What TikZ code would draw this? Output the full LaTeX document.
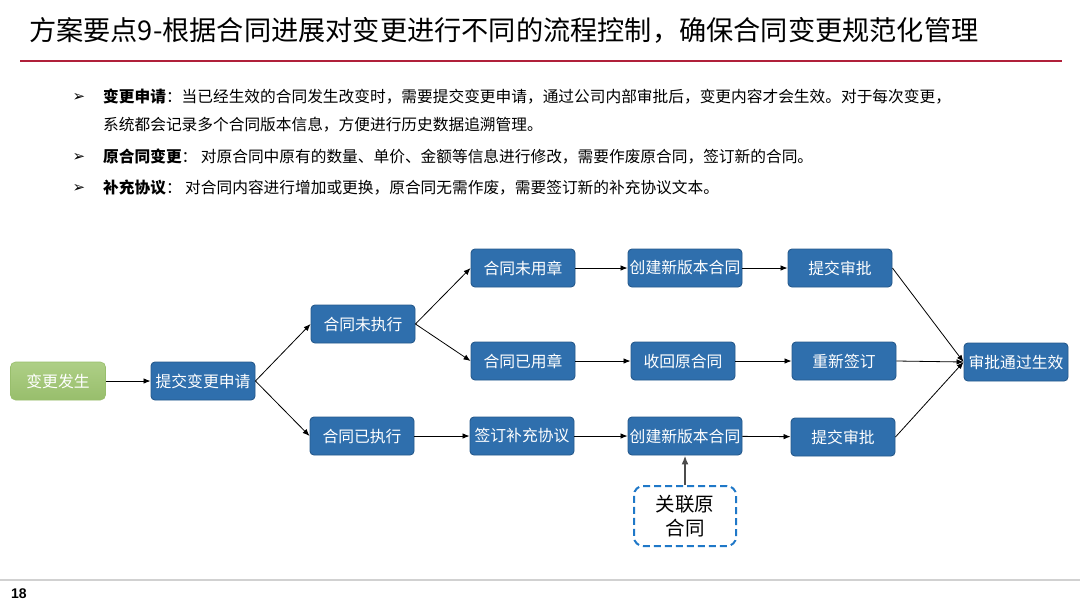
\documentclass[tikz,border=0pt]{standalone}
\usepackage{fontspec}
\setmainfont{Noto Sans CJK SC}
\newfontfamily\cjk{Noto Sans CJK SC}
\newfontfamily\symf{DejaVu Sans}
\usetikzlibrary{arrows.meta,positioning}
\definecolor{boxblue}{HTML}{2F6FAD}
\definecolor{boxborder}{HTML}{25598C}
\definecolor{boxgreenT}{HTML}{AECF86}
\definecolor{boxgreenB}{HTML}{98BE6C}
\definecolor{titlered}{HTML}{B0203A}
\definecolor{dashblue}{HTML}{1F78C8}
\tikzset{
  flowbox/.style={rectangle, rounded corners=4pt, draw=boxborder, line width=0.9pt,
    fill=boxblue, text=white, minimum width=104pt, minimum height=38pt, inner sep=1pt,
    font=\cjk\fontsize{15.8}{16}\selectfont},
  greenbox/.style={rectangle, rounded corners=5pt, draw=boxgreenB, line width=0.6pt,
    top color=boxgreenT, bottom color=boxgreenB, text=white, minimum width=95pt,
    minimum height=38pt, inner sep=1pt, font=\cjk\fontsize{15.8}{16}\selectfont},
  flowarrow/.style={-{Latex[length=7pt,width=5.5pt]}, line width=0.8pt, black},
  bullettext/.style={anchor=west, inner sep=0pt, font=\cjk\fontsize{15.7}{16}\selectfont},
  bulletmark/.style={anchor=center, inner sep=0pt, font=\symf\fontsize{15}{15}\selectfont},
}
\begin{document}
\begin{tikzpicture}[x=1pt,y=-1pt]
\useasboundingbox (0,0) rectangle (1080,608);
\fill[white] (0,0) rectangle (1080,608);
% title
\node[anchor=west, inner sep=0pt, font=\cjk\fontsize{27.2}{27}\selectfont] (title) at (29,30)
  {方案要点9-根据合同进展对变更进行不同的流程控制，确保合同变更规范化管理};
\draw[titlered, line width=2.2pt] (20,61) -- (1062,61);
% bullets
\node[bulletmark] (b1) at (79,97) {➢};
\node[bullettext] (t1) at (103,97) {\textbf{变更申请}：当已经生效的合同发生改变时，需要提交变更申请，通过公司内部审批后，变更内容才会生效。对于每次变更，};
\node[bullettext] (t1b) at (103,125) {系统都会记录多个合同版本信息，方便进行历史数据追溯管理。};
\node[bulletmark] (b2) at (79,157) {➢};
\node[bullettext] (t2) at (103,157) {\textbf{原合同变更}：~对原合同中原有的数量、单价、金额等信息进行修改，需要作废原合同，签订新的合同。};
\node[bulletmark] (b3) at (79,188) {➢};
\node[bullettext] (t3) at (103,188) {\textbf{补充协议}：~对合同内容进行增加或更换，原合同无需作废，需要签订新的补充协议文本。};
% nodes
\node[greenbox] (fs) at (58,381) {变更发生};
\node[flowbox] (tj) at (203,381) {提交变更申请};
\node[flowbox] (wzx) at (363,324) {合同未执行};
\node[flowbox] (yzx) at (362,436) {合同已执行};
\node[flowbox] (wyz) at (523,268) {合同未用章};
\node[flowbox] (yyz) at (523,361) {合同已用章};
\node[flowbox] (bc) at (522,436) {签订补充协议};
\node[flowbox, minimum width=114pt] (cj1) at (685,268) {创建新版本合同};
\node[flowbox] (sh) at (683,361) {收回原合同};
\node[flowbox, minimum width=114pt] (cj2) at (685,436) {创建新版本合同};
\node[flowbox] (sp1) at (840,268) {提交审批};
\node[flowbox] (cx) at (844,361) {重新签订};
\node[flowbox] (sp2) at (843,437) {提交审批};
\node[flowbox] (tg) at (1016,362) {审批通过生效};
\node[rectangle, rounded corners=9pt, draw=dashblue, dashed, dash pattern=on 7pt off 4pt,
  line width=2pt, minimum width=102pt, minimum height=60pt, align=center,
  font=\cjk\fontsize{19.5}{24}\selectfont] (gl) at (685,516) {关联原\\合同};
% connectors
\draw[flowarrow] (fs) -- (tj);
\draw[flowarrow] (tj.east) -- (wzx.west);
\draw[flowarrow] (tj.east) -- (yzx.west);
\draw[flowarrow] (wzx.east) -- (wyz.west);
\draw[flowarrow] (wzx.east) -- (yyz.west);
\draw[flowarrow] (yzx) -- (bc);
\draw[flowarrow] (wyz) -- (cj1);
\draw[flowarrow] (yyz) -- (sh);
\draw[flowarrow] (bc) -- (cj2);
\draw[flowarrow] (cj1) -- (sp1);
\draw[flowarrow] (sh) -- (cx);
\draw[flowarrow] (cj2) -- (sp2);
\draw[flowarrow] (sp1.east) -- (tg.west);
\draw[flowarrow] (cx.east) -- (tg.west);
\draw[flowarrow] (sp2.east) -- (tg.west);
\draw[-{Latex[length=9pt,width=7pt]}, line width=2.8pt, black!70] (gl.north) -- (cj2.south);
% footer
\draw[black!18, line width=1.5pt] (0,580) -- (1080,580);
\node[anchor=west, inner sep=0pt, font=\fontspec{Liberation Sans}\bfseries\fontsize{14}{14}\selectfont] (pg) at (11,594) {18};
\end{tikzpicture}
\end{document}
